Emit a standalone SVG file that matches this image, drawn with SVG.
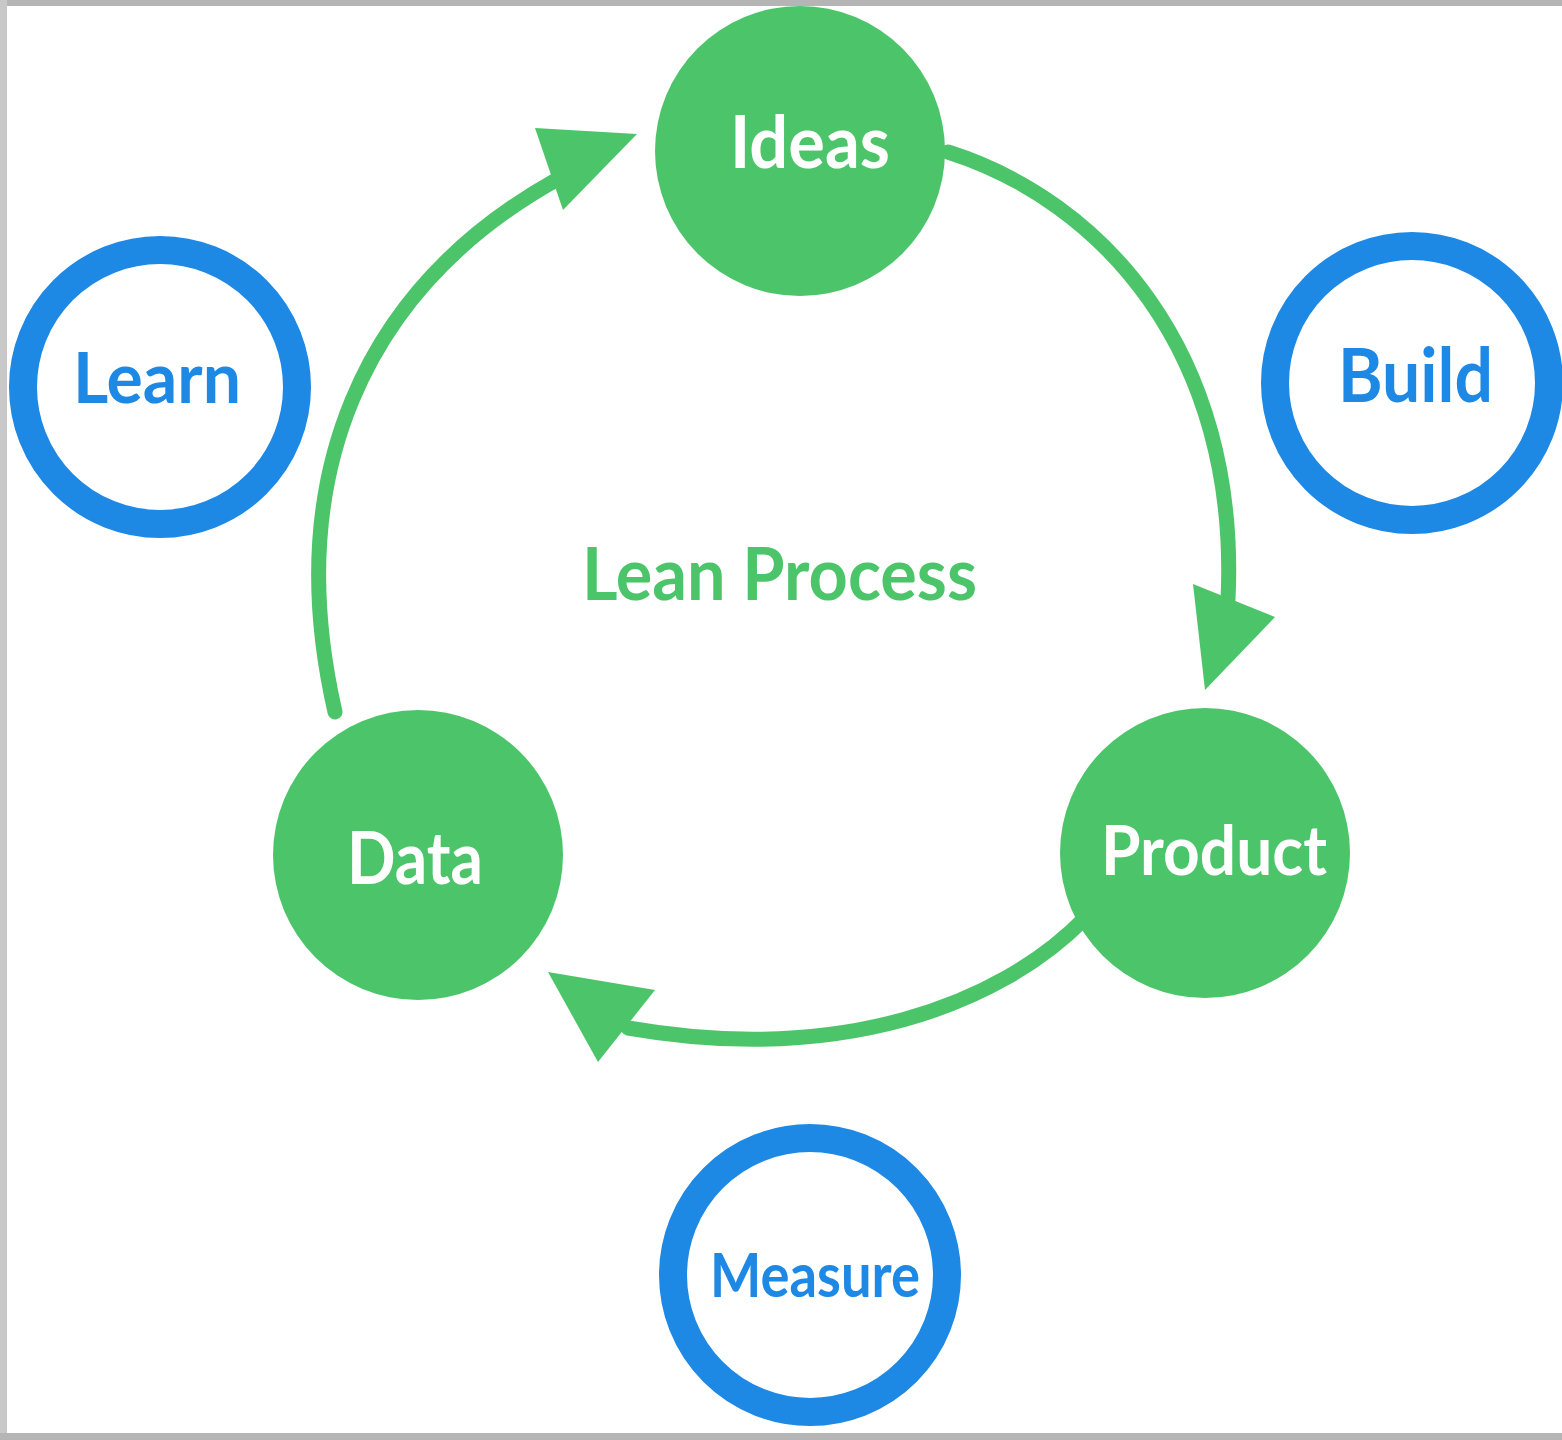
<svg xmlns="http://www.w3.org/2000/svg" width="1562" height="1440" viewBox="0 0 1562 1440">
<style>
.bg{fill:#ffffff}
.node{fill:#4cc56a}
.ring{fill:none;stroke:#1e88e5;stroke-width:28}
.wt{fill:#ffffff;font-family:Lato,"Liberation Sans",sans-serif;font-weight:700}
.bt{fill:#1e88e5;font-family:Lato,"Liberation Sans",sans-serif;font-weight:700}
.gt{fill:#4cc56a;font-family:Lato,"Liberation Sans",sans-serif;font-weight:700}
.shaft{fill:none;stroke:#4cc56a;stroke-width:15;stroke-linecap:round}
.head{fill:#4cc56a}
</style>
<rect class="bg" x="0" y="0" width="1562" height="1440"/>
<rect x="0" y="0" width="1562" height="6" fill="#b5b5b5"/>
<rect x="0" y="0" width="7" height="1440" fill="#c8c8c8"/>
<rect x="0" y="1433" width="1562" height="7" fill="#b5b5b5"/>

<g id="connectors">
  <path class="shaft" d="M 335 712 C 282 480, 360 290, 556 180"/>
  <polygon class="head" points="535,128 637,134 563,210"/>
  <path class="shaft" d="M 948 152 C 1100 200, 1240 350, 1228 600"/>
  <polygon class="head" points="1193,584 1275,617 1205,690"/>
  <path class="shaft" d="M 1085 918 C 1000 1005, 840 1065, 628 1028"/>
  <polygon class="head" points="548,972 655,990 598,1062"/>
</g>

<g id="lean-process">
  <text class="gt" x="582" y="600" font-size="73" textLength="395" lengthAdjust="spacingAndGlyphs">Lean Process</text>
</g>

<g id="ideas">
  <circle class="node" cx="800" cy="151" r="145"/>
  <text class="wt" x="730" y="168" font-size="73" textLength="160" lengthAdjust="spacingAndGlyphs">Ideas</text>
</g>
<g id="data">
  <circle class="node" cx="418" cy="855" r="145"/>
  <text class="wt" x="347" y="884" font-size="72" textLength="136" lengthAdjust="spacingAndGlyphs">Data</text>
</g>
<g id="product">
  <circle class="node" cx="1205" cy="853" r="145"/>
  <text class="wt" x="1101" y="875" font-size="69" textLength="226" lengthAdjust="spacingAndGlyphs">Product</text>
</g>

<g id="learn">
  <circle class="ring" cx="160" cy="387" r="137"/>
  <text class="bt" x="73" y="403" font-size="71" textLength="168" lengthAdjust="spacingAndGlyphs">Learn</text>
</g>
<g id="build">
  <circle class="ring" cx="1412" cy="383" r="137"/>
  <text class="bt" x="1338" y="402" font-size="75" textLength="155" lengthAdjust="spacingAndGlyphs">Build</text>
</g>
<g id="measure">
  <circle class="ring" cx="810" cy="1275" r="137"/>
  <text class="bt" x="710" y="1297" font-size="62" textLength="210" lengthAdjust="spacingAndGlyphs">Measure</text>
</g>
</svg>
